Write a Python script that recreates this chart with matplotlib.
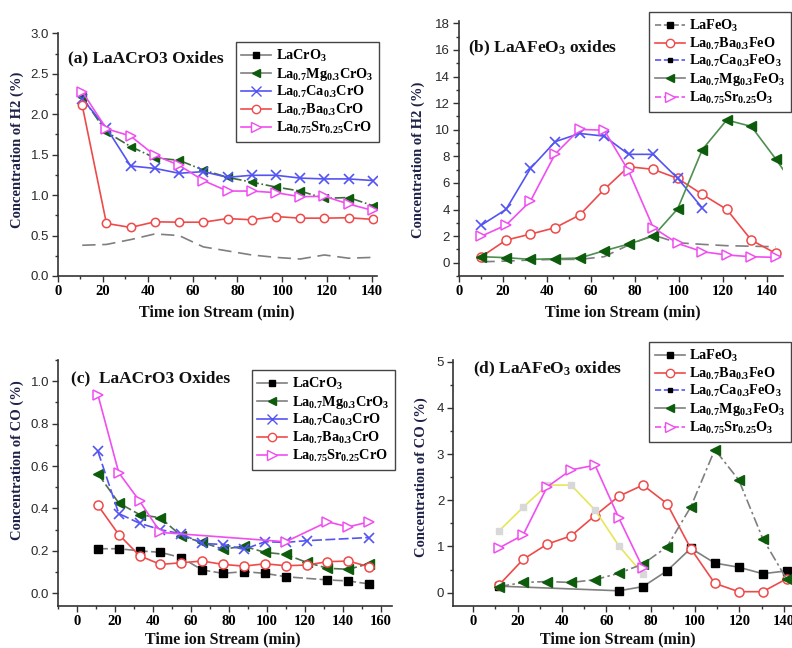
import matplotlib
matplotlib.use('Agg')
import matplotlib.pyplot as plt
from matplotlib.lines import Line2D
from matplotlib.ticker import MultipleLocator
from matplotlib.font_manager import FontProperties

plt.rcParams['mathtext.fontset'] = 'custom'
plt.rcParams['mathtext.rm'] = 'Liberation Serif:bold'
plt.rcParams['mathtext.it'] = 'Liberation Serif:bold'
plt.rcParams['mathtext.bf'] = 'Liberation Serif:bold'

# ---------------- data ----------------
# (a) H2, LaACrO3
t_a = [10.8, 21.6, 32.4, 43.2, 54, 64.8, 75.6, 86.4, 97.2, 108, 118.8, 129.6, 140.4]
a_lacro = [0.38, 0.39, 0.45, 0.52, 0.50, 0.36, 0.31, 0.26, 0.23, 0.21, 0.26, 0.22, 0.23]
a_mg = [2.21, 1.78, 1.60, 1.46, 1.43, 1.31, 1.22, 1.16, 1.10, 1.05, 0.96, 0.97, 0.87]
a_ca = [2.19, 1.83, 1.36, 1.33, 1.27, 1.29, 1.22, 1.245, 1.245, 1.21, 1.20, 1.20, 1.18]
a_ba = [2.11, 0.65, 0.60, 0.67, 0.665, 0.665, 0.71, 0.695, 0.735, 0.715, 0.715, 0.72, 0.70]
a_sr = [2.28, 1.82, 1.73, 1.49, 1.37, 1.18, 1.05, 1.05, 1.03, 0.98, 0.985, 0.89, 0.81]

# (b) H2, LaAFeO3
t_b = [10.2, 21.4, 32.5, 43.7, 54.8, 66, 77.1, 88.3, 99.4, 110.6, 121.7, 132.9, 144]
b_lafeo = [0.07, 0.12, 0.2, 0.25, 0.25, 0.45, 1.33, 2.08, 1.5, 1.38, 1.28, 1.24, 1.2]
b_ba = [0.45, 1.7, 2.15, 2.63, 3.58, 5.51, 7.22, 7.02, 6.34, 5.14, 4.01, 1.7, 0.7]
t_b_ca = [10.2, 21.4, 32.5, 43.7, 54.8, 66, 77.1, 88.3, 99.4, 110.6]
b_ca = [2.83, 4.01, 7.09, 9.1, 9.72, 9.52, 8.15, 8.15, 6.35, 4.12]
t_b_mg = [10.2, 21.4, 32.5, 43.7, 54.8, 66, 77.1, 88.3, 99.4, 110.6, 121.7, 132.9, 144, 155]
b_mg = [0.45, 0.38, 0.25, 0.3, 0.35, 0.9, 1.4, 2.0, 4.05, 8.5, 10.73, 10.25, 7.8, 5.2]
b_sr = [2.0, 2.83, 4.64, 8.17, 10.02, 9.97, 6.9, 2.64, 1.45, 0.83, 0.58, 0.45, 0.4]

# (c) CO, LaACrO3
t_c = [11, 22, 33, 44, 55, 66, 77, 88, 99, 110, 121, 132, 143, 154]
t_c_lacro = [11, 22, 33, 44, 55, 66, 77, 88, 99, 110, 132, 143, 154]
c_lacro = [0.21, 0.21, 0.20, 0.193, 0.168, 0.11, 0.094, 0.102, 0.094, 0.078, 0.063, 0.058, 0.044]
c_mg = [0.564, 0.426, 0.371, 0.356, 0.27, 0.24, 0.208, 0.222, 0.193, 0.183, 0.146, 0.118, 0.113, 0.14]
t_c_ca = [11, 22, 33, 44, 55, 66, 77, 88, 99, 110, 121, 154]
c_ca = [0.67, 0.376, 0.33, 0.30, 0.28, 0.235, 0.23, 0.207, 0.243, 0.24, 0.248, 0.263]
c_ba = [0.415, 0.277, 0.177, 0.136, 0.144, 0.152, 0.136, 0.128, 0.139, 0.13, 0.133, 0.149, 0.152, 0.125]
t_c_sr = [11, 22, 33, 44, 110, 132, 143, 154]
c_sr = [0.937, 0.569, 0.435, 0.287, 0.243, 0.337, 0.313, 0.337]

# (d) CO, LaAFeO3
t_d = [11.7, 22.5, 33.3, 44.1, 54.9, 65.7, 76.5, 87.3, 98.1, 108.9, 119.7, 130.5, 141.3]
t_d_lafeo = [11.7, 65.7, 76.5, 87.3, 98.1, 108.9, 119.7, 130.5, 141.3]
d_lafeo = [0.14, 0.04, 0.13, 0.47, 0.96, 0.64, 0.55, 0.41, 0.47]
d_ba = [0.17, 0.72, 1.05, 1.23, 1.67, 2.09, 2.33, 1.93, 0.95, 0.2, 0.02, 0.02, 0.3]
t_d_short = [11.7, 22.5, 33.3, 44.1, 54.9, 65.7, 76.5]
d_ca = [1.34, 1.85, 2.33, 2.33, 1.79, 1.01, 0.40]
d_mg = [0.13, 0.22, 0.24, 0.22, 0.28, 0.42, 0.62, 0.99, 1.86, 3.1, 2.44, 1.17, 0.29]
d_sr = [0.97, 1.25, 2.29, 2.66, 2.76, 1.61, 0.53]

# tick labels
xt_a = [0, 20, 40, 60, 80, 100, 120, 140]
yt_a = [0.0, 0.5, 1.0, 1.5, 2.0, 2.5, 3.0]
yl_a = ['0.0', '0.5', '1.0', '1.5', '2.0', '2.5', '3.0']
yt_b = [0, 2, 4, 6, 8, 10, 12, 14, 16, 18]
yl_b = [str(v) for v in yt_b]
xt_c = [0, 20, 40, 60, 80, 100, 120, 140, 160]
yt_c = [0.0, 0.2, 0.4, 0.6, 0.8, 1.0]
yl_c = ['0.0', '0.2', '0.4', '0.6', '0.8', '1.0']
yt_d = [0, 1, 2, 3, 4, 5]
yl_d = [str(v) for v in yt_d]

labels_cr = ['LaCrO$_3$', 'La$_{0.7}$Mg$_{0.3}$CrO$_3$', 'La$_{0.7}$Ca$_{0.3}$CrO',
             'La$_{0.7}$Ba$_{0.3}$CrO', 'La$_{0.75}$Sr$_{0.25}$CrO']
labels_fe = ['LaFeO$_3$', 'La$_{0.7}$Ba$_{0.3}$FeO', 'La$_{0.7}$Ca$_{0.3}$FeO$_3$',
             'La$_{0.7}$Mg$_{0.3}$FeO$_3$', 'La$_{0.75}$Sr$_{0.25}$O$_3$']

# ---------------- style ----------------
RED = '#ef4a4a'
BLUE = '#5454f2'
MAG = '#f04ef0'
DGREEN = '#0c5c0c'
GLINE = '#4f8f4f'
GRAY = '#7f7f7f'
YEL = '#e6e65a'
TXT = '#1d2148'

W, H = 792, 648
fig = plt.figure(figsize=(7.92, 6.48), dpi=100)
fig.patch.set_facecolor('white')

def px_axes(l, t, r, b):
    return fig.add_axes([l / W, 1 - b / H, (r - l) / W, (b - t) / H])

def style(ax, xlim, ylim, xt, yt, yl, xminor, yminor):
    ax.set_xlim(*xlim)
    ax.set_ylim(*ylim)
    for s in ['top', 'right']:
        ax.spines[s].set_visible(False)
    for s in ['left', 'bottom']:
        ax.spines[s].set_linewidth(1.2)
        ax.spines[s].set_color('#333333')
    ax.set_xticks(xt)
    ax.set_xticklabels([str(v) for v in xt], fontfamily='Liberation Serif',
                       fontweight='bold', fontsize=10.5)
    ax.set_yticks(yt)
    ax.set_yticklabels(yl, fontfamily='Liberation Sans', fontsize=9.5, color='#2a2a2a')
    ax.xaxis.set_minor_locator(MultipleLocator(xminor))
    ax.yaxis.set_minor_locator(MultipleLocator(yminor))
    ax.tick_params(which='both', direction='out', color='#333333', width=1)
    ax.tick_params(which='major', length=4, pad=2.5)
    ax.tick_params(which='minor', length=2.5)
    ax.set_facecolor('white')

def legend(handles, labels, right, top):
    leg = fig.legend(handles, labels, loc='upper right',
                     bbox_to_anchor=(right / W, 1 - top / H), bbox_transform=fig.transFigure,
                     frameon=True, fancybox=False, borderaxespad=0,
                     prop=FontProperties(family='Liberation Serif', weight='bold', size=10.3),
                     handlelength=2.1, handletextpad=0.3, labelspacing=0.12, borderpad=0.4)
    fr = leg.get_frame()
    fr.set_edgecolor('#444444')
    fr.set_linewidth(1.0)
    fr.set_alpha(1)
    return leg

def H_(color, marker, mfc=None, mec=None, ms=6, ls='-', lc=None):
    return Line2D([], [], color=lc or color, ls=ls, lw=1.2, marker=marker,
                  markersize=ms, markerfacecolor=mfc if mfc is not None else color,
                  markeredgecolor=mec or color)

def text_title(x, y, s):
    fig.text(x / W, 1 - y / H, s, fontfamily='Liberation Serif', fontweight='bold',
             fontsize=12.5, va='baseline', ha='left', color='#111111')

def ylab(x, y, s):
    fig.text(x / W, 1 - y / H, s, fontfamily='Liberation Serif', fontweight='bold',
             fontsize=10.5, rotation=90, ha='center', va='center', color=TXT)

def xlab(x, y, s):
    fig.text(x / W, 1 - y / H, s, fontfamily='Liberation Serif', fontweight='bold',
             fontsize=11.5, ha='center', va='baseline', color='#111111')

lw = 1.2
ms = 6

# ---------------- (a) ----------------
ax = px_axes(58, 33.3, 377.3, 276)
style(ax, (0, 142.4), (0, 3.0), xt_a, yt_a, yl_a, 10, 0.25)
ax.plot(t_a, a_lacro, color=GRAY, lw=lw, ls=(0, (8, 4)))
ax.plot(t_a, a_mg, color='#3e6a3e', lw=lw, ls='-.', marker='<', ms=ms,
        mfc=DGREEN, mec=DGREEN)
ax.plot(t_a, a_ca, color=BLUE, lw=lw, marker='x', ms=ms + 1, mew=1.2)
ax.plot(t_a, a_ba, color=RED, lw=lw, marker='o', ms=ms, mfc='white', mew=1.1)
ax.plot(t_a, a_sr, color=MAG, lw=lw, marker='>', ms=ms + 1, mfc='white', mew=1.1)
legend([H_('black', 's', lc=GRAY, ms=5),
        H_(DGREEN, '<', lc=GRAY),
        H_(BLUE, 'x', ms=7),
        H_(RED, 'o', mfc='white'),
        H_(MAG, '>', mfc='white', ms=7)], labels_cr, 379, 42)
text_title(68, 62, '(a) LaACrO3 Oxides')
ylab(17, 150, 'Concentration of H2 (%)')
xlab(217, 316, 'Time ion Stream (min)')

# ---------------- (b) ----------------
ax = px_axes(459, 20.7, 783, 276)
style(ax, (0, 147.3), (-1, 18.2), xt_a, yt_b, yl_b, 10, 1)
ax.plot(t_b, b_lafeo, color=GRAY, lw=lw, ls=(0, (8, 4)))
ax.plot(t_b, b_ba, color=RED, lw=lw, marker='o', ms=ms + 0.5, mfc='white', mew=1.1)
ax.plot(t_b_ca, b_ca, color=BLUE, lw=lw, marker='x', ms=ms + 1.5, mew=1.2)
ax.plot(t_b_mg, b_mg, color=GLINE, lw=lw, marker='<', ms=ms + 1, mfc=DGREEN, mec=DGREEN)
ax.plot(t_b, b_sr, color=MAG, lw=lw, marker='>', ms=ms + 1.5, mfc='white', mew=1.1)
legend([H_('black', 's', lc=GRAY, ms=5, ls='--'),
        H_(RED, 'o', mfc='white'),
        H_('black', 's', lc=BLUE, ms=3, ls='--'),
        H_(DGREEN, '<', lc=GRAY),
        H_(MAG, '>', mfc='white', ms=7, ls='--')], labels_fe, 791, 12)
text_title(468, 52, '(b) LaAFeO$_3$ oxides')
ylab(418, 160, 'Concentration of H2 (%)')
xlab(623, 316, 'Time ion Stream (min)')

# ---------------- (c) ----------------
ax = px_axes(58, 360, 392, 606)
style(ax, (-10, 166), (-0.06, 1.1), xt_c, yt_c, yl_c, 10, 0.1)
ax.plot(t_c_lacro, c_lacro, color=GRAY, lw=lw, ls=(0, (6, 2)), marker='s', ms=ms - 0.5,
        mfc='black', mec='black')
ax.plot(t_c, c_mg, color='#4f6f4f', lw=lw, ls=(0, (6, 2)), marker='<', ms=ms + 1,
        mfc=DGREEN, mec=DGREEN)
ax.plot(t_c_ca, c_ca, color=BLUE, lw=lw, ls=(0, (6, 2)), marker='x', ms=ms + 1.5, mew=1.2)
ax.plot(t_c, c_ba, color=RED, lw=lw, marker='o', ms=ms + 0.5, mfc='white', mew=1.1)
ax.plot(t_c_sr, c_sr, color=MAG, lw=lw, marker='>', ms=ms + 1.5, mfc='white', mew=1.1)
legend([H_('black', 's', lc=GRAY, ms=5),
        H_(DGREEN, '<', lc=GRAY),
        H_(BLUE, 'x', ms=7),
        H_(RED, 'o', mfc='white'),
        H_(MAG, '>', mfc='white', ms=7)], labels_cr, 395, 370)
text_title(71, 382, '(c)  LaACrO3 Oxides')
ylab(17, 460, 'Concentration of CO (%)')
xlab(223, 643, 'Time ion Stream (min)')

# ---------------- (d) ----------------
ax = px_axes(453.3, 360, 800, 606)
style(ax, (-9, 147.3), (-0.29, 5.04), xt_a, yt_d, yl_d, 10, 0.5)
ax.plot(t_d_lafeo, d_lafeo, color=GRAY, lw=lw, marker='s', ms=ms - 0.5,
        mfc='black', mec='black')
ax.plot(t_d, d_ba, color=RED, lw=lw, marker='o', ms=ms + 0.5, mfc='white', mew=1.1)
ax.plot(t_d_short, d_ca, color=YEL, lw=lw, marker='s', ms=ms - 1.5, mfc='#d8d8d8',
        mec='#d8d8d8')
ax.plot(t_d, d_mg, color=GRAY, lw=lw, ls=(0, (6, 2, 1.5, 2)), marker='<', ms=ms + 1,
        mfc=DGREEN, mec=DGREEN)
ax.plot(t_d_short, d_sr, color=MAG, lw=lw, marker='>', ms=ms + 1.5, mfc='white', mew=1.1)
legend([H_('black', 's', lc=GRAY, ms=5),
        H_(RED, 'o', mfc='white'),
        H_('black', 's', lc=BLUE, ms=3, ls='--'),
        H_(DGREEN, '<', lc=GRAY),
        H_(MAG, '>', mfc='white', ms=7, ls='--')], labels_fe, 791, 342)
text_title(473, 373, '(d) LaAFeO$_3$ oxides')
ylab(421, 477, 'Concentration of CO (%)')
xlab(618, 643, 'Time ion Stream (min)')

fig.savefig('out.png', dpi=100, facecolor='white')
